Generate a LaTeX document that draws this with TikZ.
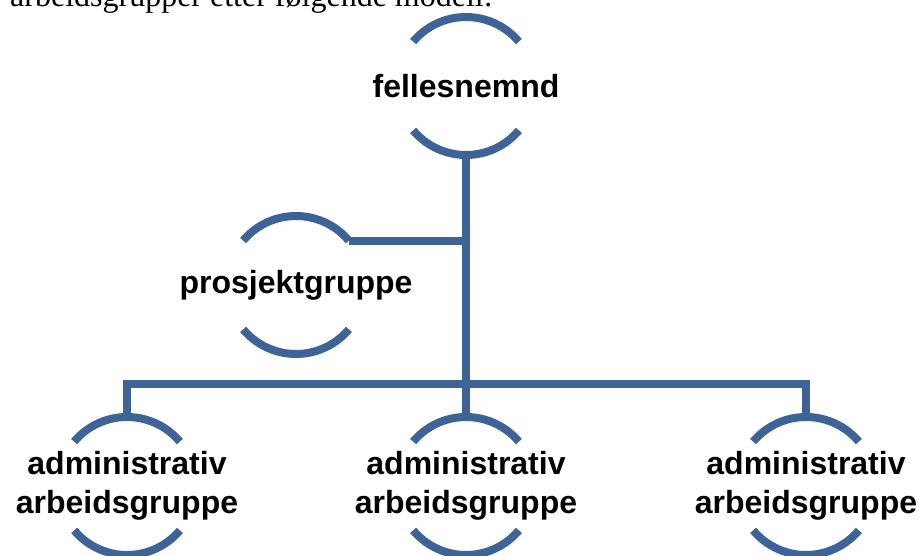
\documentclass[tikz,border=0pt]{standalone}
\usepackage{fontspec}
\setmainfont{Liberation Sans}
\newfontfamily\bodyserif{Liberation Serif}
\definecolor{chartblue}{RGB}{62,100,151}
\tikzset{
  ring/.style={circle,minimum size=138pt,inner sep=0pt,outer sep=0pt},
  unitname/.style={font=\bfseries\fontsize{32}{39}\selectfont,align=center,inner sep=0pt},
  link/.style={draw=chartblue,line width=8pt}
}
\begin{document}
\begin{tikzpicture}[x=1pt,y=1pt]
		\useasboundingbox (0,0) rectangle (919,555);
		% lead-in line of the page, cut by the top edge
		\node[anchor=base west,inner sep=0pt,font=\bodyserif\fontsize{32}{38}\selectfont] (lead) at (10,548) {arbeidsgrupper etter følgende modell:};
		% circles
		\node[ring] (top) at (466,469) {}; \node[unitname] (topname) at (top) {fellesnemnd};
		\node[ring] (pro) at (296,270) {}; \node[unitname] (proname) at (pro) {prosjektgruppe};
		\foreach \i/\x in {1/127,2/466,3/806} {
			\node[ring] (adm\i) at (\x,69) {};
			\node[unitname] (admname\i) at (adm\i) {administrativ\\arbeidsgruppe};
		}
		\foreach \r in {top,pro,adm1,adm2,adm3} {
			\draw[link] (\r.40) arc[start angle=40,end angle=140,radius=69pt];
			\draw[link] (\r.220) arc[start angle=220,end angle=320,radius=69pt];
		}
		% connectors
		\coordinate (bar) at (466,171);
		\draw[link] (top.south) -- (adm2.north);
		\draw[link] (pro.40) -- (pro.40 -| top.south);
		\draw[link] (adm1.north) |- (bar) -| (adm3.north);
	\end{tikzpicture}
\end{document}
